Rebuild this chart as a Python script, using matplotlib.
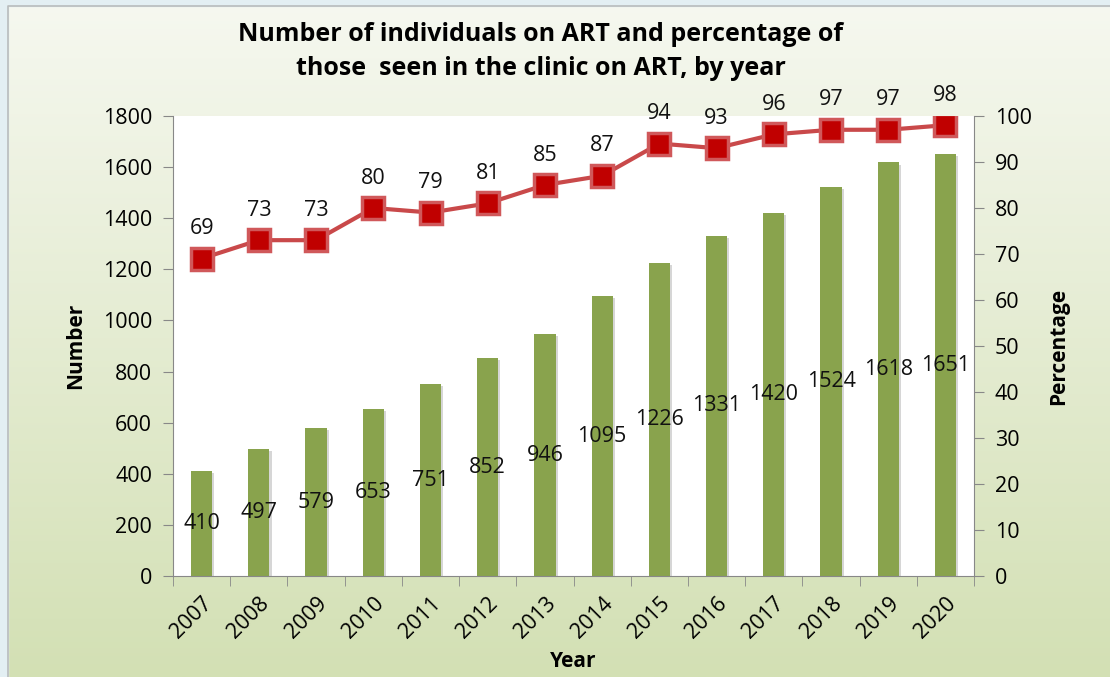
import matplotlib.pyplot as plt
import matplotlib.patheffects as pe
import numpy as np
from matplotlib.patches import Rectangle

plt.rcParams['font.family'] = ['Open Sans', 'DejaVu Sans']

# data
years = ['2007', '2008', '2009', '2010', '2011', '2012', '2013',
         '2014', '2015', '2016', '2017', '2018', '2019', '2020']
numbers = [410, 497, 579, 653, 751, 852, 946, 1095, 1226, 1331, 1420, 1524, 1618, 1651]
percent = [69, 73, 73, 80, 79, 81, 85, 87, 94, 93, 96, 97, 97, 98]

fig = plt.figure(figsize=(11.1, 6.77), dpi=100)

# gradient background
bg = fig.add_axes([0, 0, 1, 1], zorder=-10)
grad = np.linspace(0, 1, 256).reshape(-1, 1)
top_c = np.array([0xf6, 0xf8, 0xf0]) / 255
bot_c = np.array([0xd3, 0xe0, 0xb4]) / 255
img = top_c + (bot_c - top_c) * grad[:, :, None]
bg.imshow(img, aspect='auto', extent=[0, 1, 0, 1], origin='upper')
bg.add_patch(Rectangle((0, 0), 0.0072, 1, color='#e3eff3', transform=bg.transAxes))
bg.add_patch(Rectangle((0, 0.991), 1, 0.009, color='#e3eff3', transform=bg.transAxes))
bg.plot([0.0072, 0.0072, 1], [0, 0.991, 0.991], color='#b8bcbc', lw=1.2)
bg.set_xlim(0, 1)
bg.set_ylim(0, 1)
bg.axis('off')

ax = fig.add_axes([0.1559, 0.1492, 0.7216, 0.6795])
ax.set_facecolor('white')
x = np.arange(len(years))
bars = ax.bar(x, numbers, width=0.37, color='#89a34d', zorder=2,
              path_effects=[pe.SimplePatchShadow(offset=(1.5, -1.5), shadow_rgbFace='#bbbbbb', alpha=0.6),
                            pe.Normal()])
for xi, v in zip(x, numbers):
    ax.text(xi, v / 2, str(v), ha='center', va='center', fontsize=15.5, color='#111111', zorder=3)

ax.set_xlim(-0.5, len(years) - 0.5)
ax.set_ylim(0, 1800)
ax.set_yticks(range(0, 1801, 200))
ax.set_xticks(x)
ax.set_xticklabels(years, rotation=45, ha='right', rotation_mode='anchor', fontsize=15.5)
ax.set_xticks(np.arange(-0.5, len(years), 1), minor=True)
ax.tick_params(axis='x', which='major', length=0, pad=12)
ax.tick_params(axis='x', which='minor', length=7, color='#888888')
ax.tick_params(axis='y', labelsize=15.5, length=7, color='#888888', pad=8)
for s in ['top', 'right']:
    ax.spines[s].set_visible(False)
for s in ['left', 'bottom']:
    ax.spines[s].set_color('#888888')
ax.set_ylabel('Number', fontsize=15, fontweight='bold', labelpad=12)
ax.set_xlabel('Year', fontsize=15, fontweight='bold', labelpad=6)

ax2 = ax.twinx()
ax2.plot(x, percent, color='#c9494a', lw=3, marker='s', markersize=16,
         markerfacecolor='#c00000', markeredgecolor='#d0585a', markeredgewidth=2.5, zorder=4)
for xi, p in zip(x, percent):
    ax2.annotate(str(p), (xi, p), xytext=(0, 14), textcoords='offset points',
                 ha='center', va='bottom', fontsize=15.5, color='#111111')
ax2.set_ylim(0, 100)
ax2.set_yticks(range(0, 101, 10))
ax2.tick_params(axis='y', labelsize=15.5, length=7, color='#888888', pad=8)
for s in ['top', 'left', 'bottom']:
    ax2.spines[s].set_visible(False)
ax2.spines['right'].set_color('#888888')
ax2.set_ylabel('Percentage', fontsize=15, fontweight='bold', labelpad=12)

fig.text(0.487, 0.924, 'Number of individuals on ART and percentage of\nthose  seen in the clinic on ART, by year',
         ha='center', va='center', fontsize=18, fontweight='bold', linespacing=1.45)

fig.savefig('out.png', dpi=100)
